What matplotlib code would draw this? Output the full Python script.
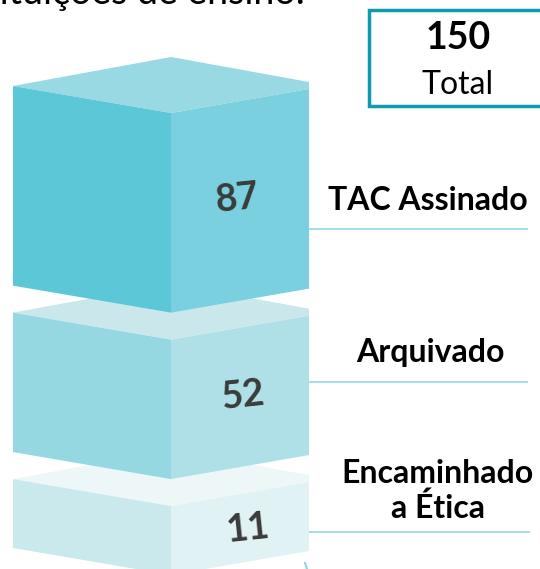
import matplotlib
matplotlib.use("Agg")
import matplotlib.pyplot as plt
from matplotlib.patches import Polygon, Rectangle

plt.rcParams["font.family"] = ["Lato", "DejaVu Sans"]

# data
values = [87, 52, 11]
total = 150
labels = ["TAC Assinado", "Arquivado", "Encaminhado\na Ética"]
title_text = "instituições de ensino."

# one colour triple per block: left face, right face, top face
face_colors = [
    ("#5CC8D7", "#7AD0DE", "#98D9E3"),
    ("#96D8E2", "#AFE0E7", "#CAE8EC"),
    ("#CAE9EC", "#E0F2F3", "#EDF7F8"),
]

# the blocks are not to scale, height = base + k * value fits them
base_h = 50
k_h = 1.72
gap = 27

left_x = 13
mid_x = 171
right_x = 309
rise_left = 27
rise_right = 24


def draw_block(ax, y, h, colors):
    c_left, c_right, c_top = colors
    apex = y - 56
    ax.add_patch(Polygon([(left_x, y - rise_left), (mid_x, apex), (right_x, y - rise_right - 7),
                          (right_x, y - rise_right), (mid_x, y)], closed=True, fc=c_top, ec="none"))
    ax.add_patch(Polygon([(left_x, y - rise_left), (mid_x, y), (mid_x, y + h),
                          (left_x, y + h - rise_left)], closed=True, fc=c_left, ec="none"))
    ax.add_patch(Polygon([(mid_x, y), (right_x, y - rise_right), (right_x, y + h - rise_right),
                          (mid_x, y + h)], closed=True, fc=c_right, ec="none"))


fig = plt.figure(figsize=(5.4, 5.69), dpi=100)
ax = fig.add_axes([0, 0, 1, 1])
ax.set_xlim(0, 540)
ax.set_ylim(569, 0)
ax.axis("off")

# stack from the top, draw from the bottom so upper blocks cover lower ones
tops = []
y = 113
for v in values:
    tops.append(y)
    y = y + base_h + k_h * v + gap

for v, y, colors in reversed(list(zip(values, tops, face_colors))):
    draw_block(ax, y, base_h + k_h * v, colors)

# stray bit of the source image under the last block
ax.plot([305, 307], [563, 569], color="#8ED6E0", lw=1.5)

value_pos = [(237, 199), (243, 396), (248, 529)]
for v, (x, y) in zip(values, value_pos):
    ax.text(x, y, str(v), ha="center", va="center", fontsize=27, fontweight="bold",
            color="#3A3A3A", rotation=6)

label_pos = [(428, 200), (430, 352), (438, 491)]
line_y = [229, 382, 532]
line_end = [528, 528, 530]
for txt, (x, y), ly, xe in zip(labels, label_pos, line_y, line_end):
    ax.text(x, y, txt, ha="center", va="center", fontsize=23, fontweight="bold",
            color="black", linespacing=1.2)
    ax.plot([right_x, xe], [ly, ly], color="#93D9E3", lw=1.2, solid_capstyle="butt")

# total box, its right side runs off the picture
ax.add_patch(Rectangle((369, 10), 180, 96, fc="white", ec="#0E9BB0", lw=2.5))
ax.text(458, 38, str(total), ha="center", va="center", fontsize=27, fontweight="bold", color="black")
ax.text(458, 85, "Total", ha="center", va="center", fontsize=23, color="black")

# the source picture cuts this line at the top edge
ax.text(305, 4, title_text, ha="right", va="baseline", fontsize=27, color="black")

fig.savefig("out.png", dpi=100)
